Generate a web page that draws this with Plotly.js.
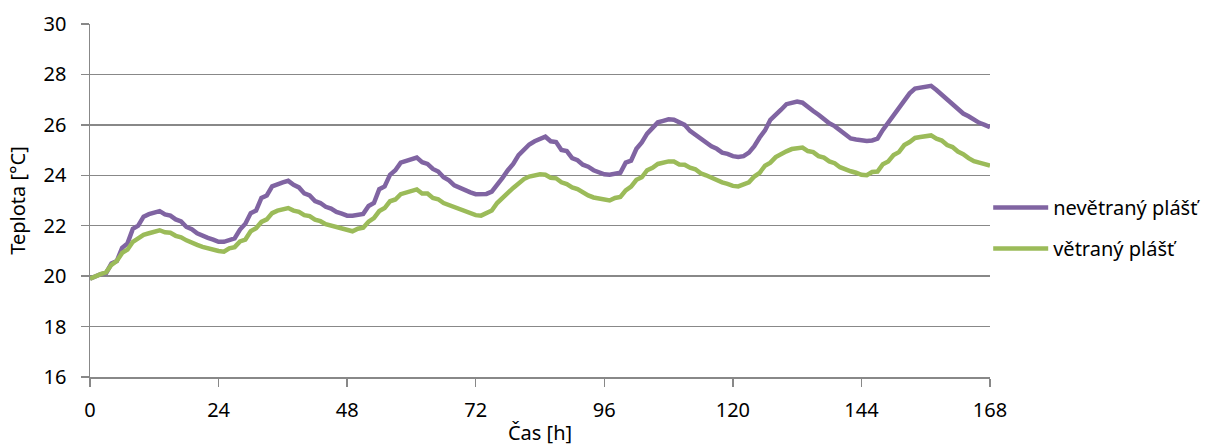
<!DOCTYPE html>
<html>
<head>
<meta charset="utf-8">
<script src="https://cdn.plot.ly/plotly-3.0.1.min.js"></script>
<style>html,body{margin:0;padding:0;background:#fff;}#chart{width:1221px;height:448px;}</style>
</head>
<body>
<div id="chart"></div>
<script>
// hours 0..168
const hours = Array.from({length: 169}, (_, i) => i);

const nevetrany = [
19.9,20.0,20.08,20.12,20.5,20.6,21.12,21.3,21.88,22.0,22.36,22.46,22.52,22.58,22.45,22.4,22.25,22.17,21.95,21.86,
21.7,21.6,21.52,21.45,21.36,21.36,21.42,21.5,21.85,22.08,22.5,22.6,23.1,23.2,23.56,23.66,23.72,23.78,23.62,23.52,
23.28,23.2,22.98,22.9,22.75,22.68,22.55,22.48,22.4,22.4,22.43,22.47,22.78,22.9,23.45,23.56,24.02,24.2,24.5,24.58,
24.64,24.7,24.52,24.45,24.25,24.15,23.92,23.8,23.6,23.5,23.4,23.32,23.25,23.24,23.26,23.35,23.6,23.9,24.2,24.45,
24.8,25.0,25.22,25.35,25.45,25.53,25.35,25.32,25.0,24.96,24.68,24.6,24.42,24.34,24.2,24.1,24.04,24.02,24.06,24.1,
24.5,24.58,25.05,25.3,25.65,25.85,26.1,26.16,26.22,26.2,26.12,26.0,25.76,25.6,25.45,25.3,25.15,25.05,24.9,24.85,
24.76,24.73,24.76,24.9,25.15,25.5,25.78,26.2,26.38,26.6,26.82,26.86,26.92,26.88,26.74,26.55,26.4,26.2,26.06,25.95,
25.77,25.6,25.46,25.42,25.37,25.36,25.38,25.45,25.8,26.1,26.4,26.7,27.02,27.25,27.44,27.48,27.53,27.55,27.38,27.2,
27.0,26.82,26.65,26.45,26.34,26.2,26.08,26.0,25.91
];

const vetrany = [
19.9,20.0,20.08,20.15,20.45,20.6,20.92,21.05,21.36,21.5,21.64,21.7,21.76,21.82,21.74,21.72,21.6,21.54,21.42,21.35,
21.24,21.16,21.1,21.06,21.0,20.97,21.1,21.15,21.38,21.45,21.78,21.9,22.15,22.25,22.5,22.6,22.65,22.7,22.6,22.55,
22.42,22.38,22.24,22.18,22.06,22.0,21.94,21.86,21.8,21.78,21.88,21.92,22.16,22.3,22.58,22.7,22.97,23.04,23.25,23.32,
23.38,23.44,23.28,23.28,23.1,23.05,22.9,22.82,22.7,22.62,22.55,22.48,22.42,22.4,22.52,22.6,22.9,23.08,23.3,23.5,
23.7,23.85,23.95,23.98,24.04,24.02,23.9,23.88,23.72,23.65,23.52,23.45,23.32,23.2,23.12,23.07,23.02,23.0,23.1,23.14,
23.4,23.55,23.82,23.92,24.2,24.3,24.45,24.52,24.55,24.55,24.43,24.42,24.3,24.24,24.08,24.0,23.9,23.84,23.72,23.66,
23.58,23.56,23.65,23.72,23.95,24.1,24.38,24.5,24.72,24.85,24.95,25.04,25.08,25.1,24.96,24.92,24.76,24.7,24.55,24.48,
24.32,24.22,24.16,24.1,24.02,24.0,24.13,24.15,24.44,24.55,24.8,24.92,25.2,25.32,25.48,25.52,25.55,25.58,25.45,25.38,
25.2,25.12,24.94,24.84,24.68,24.56,24.5,24.44,24.38
];

const seriesNames = ["nevětraný plášť", "větraný plášť"];
const xTicks = [0, 24, 48, 72, 96, 120, 144, 168];
const yTicks = [16, 18, 20, 22, 24, 26, 28, 30];

const font = "Noto Sans, Open Sans, sans-serif";
const grid = "#888888";
const fs = 20;

const traces = [
  {x: hours, y: nevetrany, name: seriesNames[0], type: "scatter", mode: "lines",
   line: {color: "#8064A2", width: 4.5}, legendgroup: "a"},
  {x: hours, y: vetrany, name: seriesNames[1], type: "scatter", mode: "lines",
   line: {color: "#9BBB59", width: 4.5}, legendgroup: "b"}
];

const layout = {
  width: 1221, height: 448,
  margin: {l: 90, r: 231, t: 24, b: 71},
  paper_bgcolor: "#fff", plot_bgcolor: "#fff",
  font: {family: font, size: fs, color: "#000"},
  showlegend: true,
  legend: {x: 0.998, xanchor: "left", y: 0.422, yanchor: "middle",
           font: {family: font, size: fs, color: "#000"},
           traceorder: "grouped", tracegroupgap: 12, itemwidth: 55,
           bgcolor: "rgba(0,0,0,0)"},
  xaxis: {range: [0, 168], tickvals: xTicks, ticktext: xTicks.map(String),
          showgrid: false, zeroline: false, showline: true, linecolor: grid, linewidth: 1.5,
          ticks: "outside", ticklen: 8, tickcolor: grid, tickwidth: 1.5,
          ticklabelstandoff: 6,
          tickfont: {family: font, size: fs},
          title: {text: "Čas [h]", font: {family: font, size: fs}, standoff: 4}},
  yaxis: {range: [16, 30], tickvals: yTicks, ticktext: yTicks.map(String),
          showgrid: true, gridcolor: grid, gridwidth: 1.5, zeroline: false,
          showline: true, linecolor: grid, linewidth: 1.5,
          ticks: "outside", ticklen: 8, tickcolor: grid, tickwidth: 1.5,
          ticklabelstandoff: 10,
          tickfont: {family: font, size: fs},
          title: {text: "Teplota [°C]", font: {family: font, size: fs}, standoff: 12}}
};

Plotly.newPlot("chart", traces, layout, {displayModeBar: false, staticPlot: true});
</script>
</body>
</html>
